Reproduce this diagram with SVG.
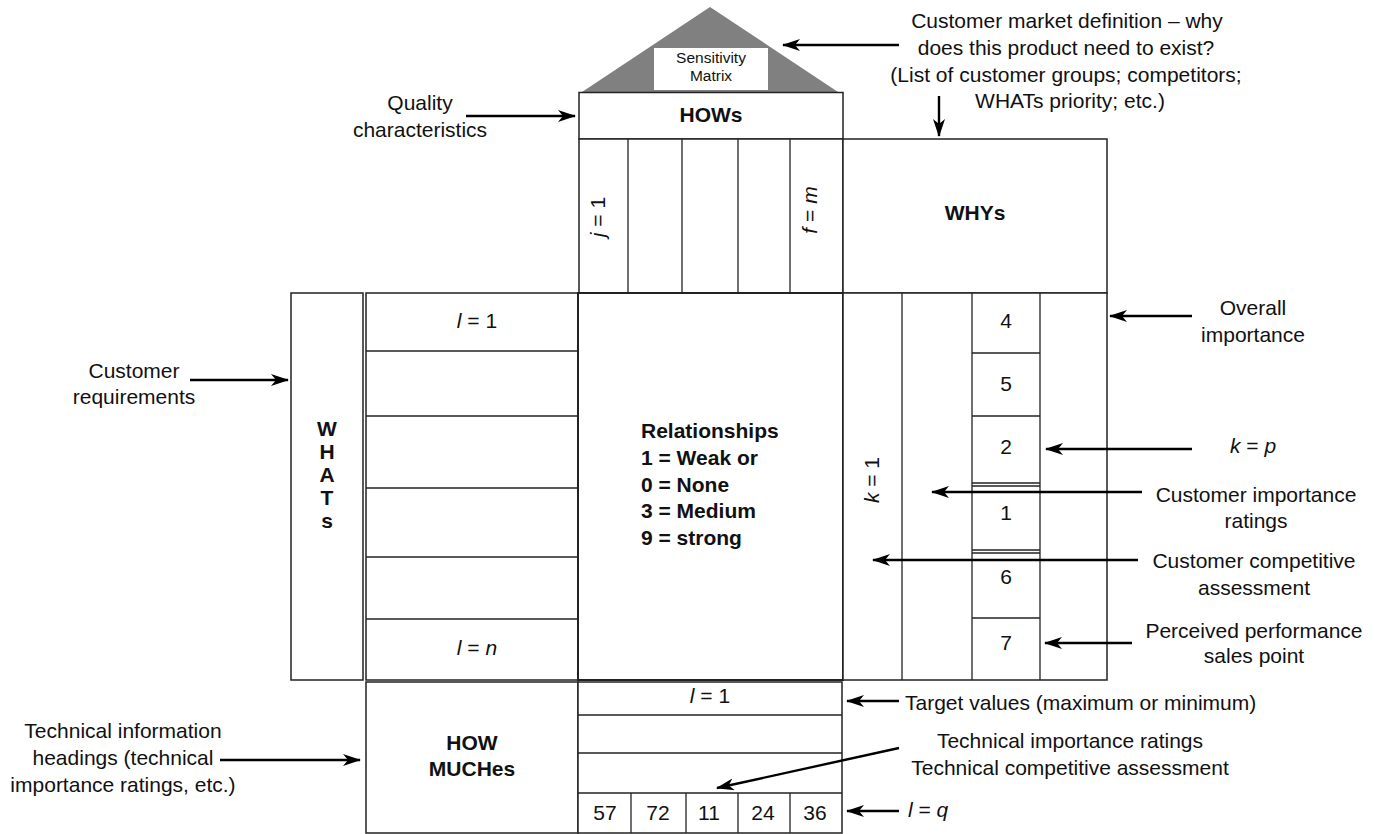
<svg xmlns="http://www.w3.org/2000/svg" width="1375" height="834" viewBox="0 0 1375 834">
<style>
  text { font-family: "Liberation Sans", Arial, sans-serif; font-size: 21px; fill: #111; }
  .b { font-weight: bold; }
  .c { text-anchor: middle; }
  .it { font-style: italic; }
  .small { font-size: 15.5px; }
  .box { fill: #fff; stroke: #222; stroke-width: 1.5; }
  .ln { stroke: #222; stroke-width: 1.3; fill: none; }
  .arr { stroke: #000; stroke-width: 2.4; fill: none; marker-end: url(#ah); }
</style>
<defs>
  <marker id="ah" markerUnits="userSpaceOnUse" markerWidth="20" markerHeight="12" refX="17" refY="6" orient="auto">
    <path d="M0,0 L18,6 L0,12 L5,6 Z" fill="#000"/>
  </marker>
</defs>
<rect width="1375" height="834" fill="#fff"/>

<g id="roof">
  <polygon points="582,92 710,7 838,92" fill="#808080"/>
  <rect x="654" y="48" width="114" height="42" fill="#fff"/>
  <text class="c small" x="711" y="63">Sensitivity</text>
  <text class="c small" x="711" y="81">Matrix</text>
</g>

<g id="hows">
  <rect class="box" x="579" y="92.5" width="264" height="46.5"/>
  <text class="c b" x="711" y="122">HOWs</text>
</g>

<g id="how-columns">
  <rect class="box" x="579" y="139" width="264" height="154"/>
  <line class="ln" x1="628" y1="139" x2="628" y2="293"/>
  <line class="ln" x1="682" y1="139" x2="682" y2="293"/>
  <line class="ln" x1="738" y1="139" x2="738" y2="293"/>
  <line class="ln" x1="790" y1="139" x2="790" y2="293"/>
  <text class="c" transform="translate(605,217) rotate(-90)"><tspan class="it">j</tspan> = 1</text>
  <text class="c" transform="translate(817,210) rotate(-90)"><tspan class="it">f</tspan> = <tspan class="it">m</tspan></text>
</g>

<g id="whys">
  <rect class="box" x="843" y="139" width="264" height="154"/>
  <text class="c b" x="975" y="220">WHYs</text>
</g>

<g id="whats">
  <rect class="box" x="291" y="293" width="72" height="387"/>
  <text class="c b" x="327" y="436">W</text>
  <text class="c b" x="327" y="459">H</text>
  <text class="c b" x="327" y="482">A</text>
  <text class="c b" x="327" y="505">T</text>
  <text class="c b" x="327" y="528">s</text>
</g>

<g id="what-rows">
  <rect class="box" x="366" y="293" width="212" height="387"/>
  <line class="ln" x1="366" y1="351" x2="578" y2="351"/>
  <line class="ln" x1="366" y1="416" x2="578" y2="416"/>
  <line class="ln" x1="366" y1="488" x2="578" y2="488"/>
  <line class="ln" x1="366" y1="557" x2="578" y2="557"/>
  <line class="ln" x1="366" y1="619" x2="578" y2="619"/>
  <text class="c" x="477" y="328"><tspan class="it">l</tspan> = 1</text>
  <text class="c" x="477" y="655"><tspan class="it">l</tspan> = <tspan class="it">n</tspan></text>
</g>

<g id="relationships">
  <rect class="box" x="578" y="293" width="265" height="387" style="stroke-width:2"/>
  <text class="b" x="641" y="438">Relationships</text>
  <text class="b" x="641" y="465">1 = Weak or</text>
  <text class="b" x="641" y="492">0 = None</text>
  <text class="b" x="641" y="518">3 = Medium</text>
  <text class="b" x="641" y="545">9 = strong</text>
</g>

<g id="assessment">
  <rect class="box" x="843" y="293" width="264" height="387"/>
  <line class="ln" x1="902" y1="293" x2="902" y2="680"/>
  <line class="ln" x1="972" y1="293" x2="972" y2="680"/>
  <line class="ln" x1="1040" y1="293" x2="1040" y2="680"/>
  <line class="ln" x1="972" y1="353" x2="1040" y2="353"/>
  <line class="ln" x1="972" y1="416" x2="1040" y2="416"/>
  <line class="ln" x1="972" y1="483" x2="1040" y2="483"/>
  <line class="ln" x1="972" y1="486" x2="1040" y2="486"/>
  <line class="ln" x1="972" y1="550" x2="1040" y2="550"/>
  <line class="ln" x1="972" y1="553" x2="1040" y2="553"/>
  <line class="ln" x1="972" y1="618" x2="1040" y2="618"/>
  <text class="c" x="1006" y="328">4</text>
  <text class="c" x="1006" y="391">5</text>
  <text class="c" x="1006" y="454">2</text>
  <text class="c" x="1006" y="520">1</text>
  <text class="c" x="1006" y="584">6</text>
  <text class="c" x="1006" y="650">7</text>
  <text class="c" transform="translate(879,480) rotate(-90)"><tspan class="it">k</tspan> = 1</text>
</g>

<g id="how-muches">
  <rect class="box" x="366" y="682" width="212" height="151"/>
  <text class="c b" x="472" y="750">HOW</text>
  <text class="c b" x="472" y="776">MUCHes</text>
</g>

<g id="targets">
  <rect class="box" x="578" y="682" width="264" height="151"/>
  <line class="ln" x1="578" y1="715" x2="842" y2="715"/>
  <line class="ln" x1="578" y1="753" x2="842" y2="753"/>
  <line class="ln" x1="578" y1="793" x2="842" y2="793"/>
  <line class="ln" x1="631" y1="793" x2="631" y2="833"/>
  <line class="ln" x1="686" y1="793" x2="686" y2="833"/>
  <line class="ln" x1="738" y1="793" x2="738" y2="833"/>
  <line class="ln" x1="790" y1="793" x2="790" y2="833"/>
  <text class="c" x="710" y="703"><tspan class="it">l</tspan> = 1</text>
  <text class="c" x="605" y="820">57</text>
  <text class="c" x="658" y="820">72</text>
  <text class="c" x="709" y="820">11</text>
  <text class="c" x="763" y="820">24</text>
  <text class="c" x="815" y="820">36</text>
</g>

<g id="labels">
  <text class="c" x="1067" y="28">Customer market definition – why</text>
  <text class="c" x="1066" y="55">does this product need to exist?</text>
  <text class="c" x="1066" y="82">(List of customer groups; competitors;</text>
  <text class="c" x="1070" y="108">WHATs priority; etc.)</text>
  <text class="c" x="420" y="110">Quality</text>
  <text class="c" x="420" y="137">characteristics</text>
  <text class="c" x="134" y="378">Customer</text>
  <text class="c" x="134" y="404">requirements</text>
  <text class="c" x="1253" y="315">Overall</text>
  <text class="c" x="1253" y="342">importance</text>
  <text class="c" x="1253" y="453"><tspan class="it">k</tspan> = <tspan class="it">p</tspan></text>
  <text class="c" x="1256" y="502">Customer importance</text>
  <text class="c" x="1256" y="528">ratings</text>
  <text class="c" x="1254" y="568">Customer competitive</text>
  <text class="c" x="1254" y="595">assessment</text>
  <text class="c" x="1254" y="638">Perceived performance</text>
  <text class="c" x="1254" y="663">sales point</text>
  <text x="905" y="710">Target values (maximum or minimum)</text>
  <text class="c" x="1070" y="748">Technical importance ratings</text>
  <text class="c" x="1070" y="775">Technical competitive assessment</text>
  <text x="908" y="817"><tspan class="it">l</tspan> = <tspan class="it">q</tspan></text>
  <text class="c" x="123" y="738">Technical information</text>
  <text class="c" x="123" y="765">headings (technical</text>
  <text class="c" x="123" y="792">importance ratings, etc.)</text>
</g>

<g id="connectors">
  <line class="arr" x1="899" y1="45" x2="783" y2="45"/>
  <line class="arr" x1="939" y1="96" x2="939" y2="136"/>
  <line class="arr" x1="466" y1="116" x2="575" y2="116"/>
  <line class="arr" x1="190" y1="380" x2="288" y2="380"/>
  <line class="arr" x1="1192" y1="316" x2="1110" y2="316"/>
  <line class="arr" x1="1192" y1="449" x2="1046" y2="449"/>
  <line class="arr" x1="1142" y1="492" x2="932" y2="492"/>
  <line class="arr" x1="1138" y1="560" x2="873" y2="560"/>
  <line class="arr" x1="1132" y1="643" x2="1045" y2="643"/>
  <line class="arr" x1="899" y1="701" x2="847" y2="701"/>
  <line class="arr" x1="899" y1="748" x2="717" y2="788"/>
  <line class="arr" x1="899" y1="811" x2="847" y2="811"/>
  <line class="arr" x1="220" y1="760" x2="360" y2="760"/>
</g>
</svg>
